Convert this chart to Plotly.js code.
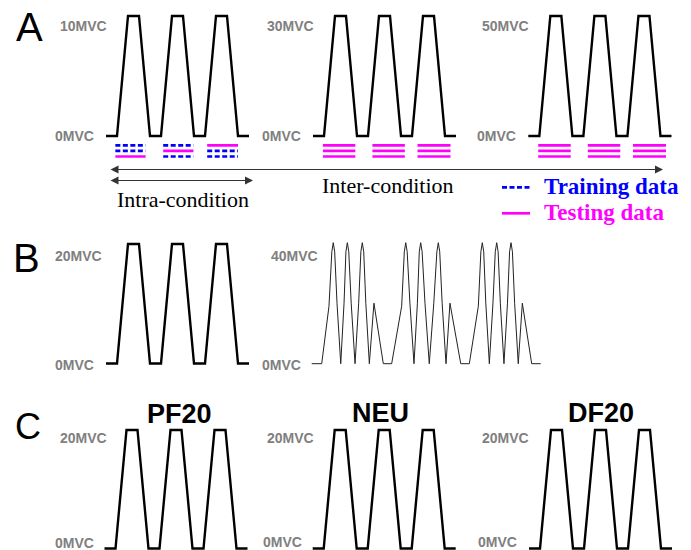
<!DOCTYPE html>
<html>
<head>
<meta charset="utf-8">
<script src="https://cdn.plot.ly/plotly-3.0.1.min.js"></script>
<style>html,body{margin:0;padding:0;background:#fff;}#chart{width:691px;height:550px;}</style>
</head>
<body>
<div id="chart"></div>
<script>
// ---------------- data ----------------
// trapezoidal force profile: time units, force in %MVC
const trapTime = [0, 1, 2, 3, 4, 5, 6, 7, 8, 9, 10, 11, 12, 13];
const forceA10 = [0, 0, 10, 10, 0, 0, 10, 10, 0, 0, 10, 10, 0, 0];
const forceA30 = [0, 0, 30, 30, 0, 0, 30, 30, 0, 0, 30, 30, 0, 0];
const forceA50 = [0, 0, 50, 50, 0, 0, 50, 50, 0, 0, 50, 50, 0, 0];
const forceB20 = [0, 0, 20, 20, 0, 0, 20, 20, 0, 0, 20, 20, 0, 0];
const forceC20 = [0, 0, 20, 20, 0, 0, 20, 20, 0, 0, 20, 20, 0, 0];

// sinusoidal (dynamic) profile of panel B, 40 %MVC
const sineTime = [0, 0.91, 1.57, 1.83, 1.96, 2.09, 2.30, 2.64, 2.94, 3.11, 3.24, 3.37, 3.59, 3.94,
  4.27, 4.47, 4.60, 4.73, 4.92, 5.24, 5.66, 6.51, 7.27,
  8.18, 8.42, 8.55, 8.68, 8.93, 9.30, 9.61, 9.78, 9.91, 10.04, 10.30, 10.69,
  11.10, 11.38, 11.51, 11.64, 11.86, 12.21, 12.57, 13.55, 14.33,
  15.15, 15.38, 15.51, 15.64, 15.83, 16.15, 16.48, 16.69, 16.82, 16.95, 17.15, 17.48,
  17.80, 17.99, 18.12, 18.25, 18.45, 18.78, 19.15, 20.00, 20.82];
const sineForce = [0, 0, 19, 37, 40, 37, 20, 0, 20, 37, 40, 37, 20, 0,
  20, 37, 40, 37, 20, 0, 20, 0, 0,
  19, 37, 40, 37, 20, 0, 20, 37, 40, 37, 20, 0,
  20, 37, 40, 37, 20, 0, 20, 0, 0,
  19, 37, 40, 37, 20, 0, 20, 37, 40, 37, 20, 0,
  20, 37, 40, 37, 20, 0, 20, 0, 0];

// data split windows (one per contraction) and role of each of the three rows
const intraStart = [0.85, 5.2, 9.2];
const intraEnd = [3.6, 7.95, 12.0];
const interStart = [0.9, 5.4, 9.5];
const interEnd = [3.85, 8.35, 12.5];
const intraRoles = [['train', 'train', 'test'], ['train', 'test', 'train'], ['test', 'train', 'train']];
const interRoles = [['test', 'test', 'test'], ['test', 'test', 'test'], ['test', 'test', 'test']];

// labels
const topLabels = ['10MVC', '30MVC', '50MVC', '20MVC', '40MVC', '20MVC', '20MVC', '20MVC'];
const zeroLabel = '0MVC';
const conditionTitles = ['PF20', 'NEU', 'DF20'];
const legendNames = ['Training data', 'Testing data'];

// ---------------- layout helpers ----------------
const W = 691, H = 550;
const GRAY = '#808080';
const BLUE = '#0000ff', MAGENTA = '#ff00ff';
const DASH = '5px,2.5px';
function px2x(p) { return p / W; }
function px2y(p) { return 1 - p / H; }
function xax(pxL, pxR, r, pad) {
  const k = (pxR - pxL) / (r[1] - r[0]);
  return {domain: [Math.max(0, (pxL - pad) / W), Math.min(1, (pxR + pad) / W)],
          range: [r[0] - pad / k, r[1] + pad / k], visible: false, fixedrange: true};
}
function yax(pyB, pyT, r, padB, padT) {
  const k = (pyB - pyT) / (r[1] - r[0]);
  return {domain: [Math.max(0, 1 - (pyB + padB) / H), Math.min(1, 1 - (pyT - padT) / H)],
          range: [r[0] - padB / k, r[1] + padT / k], visible: false, fixedrange: true};
}

// panel boxes (pixel positions of the data extents)
const panels = [
  {x: [106, 249], y: [136, 16], t: trapTime, f: forceA10, top: 10, lblTop: [83, 26], lblZero: [74.5, 136]},
  {x: [313, 456], y: [136, 16], t: trapTime, f: forceA30, top: 30, lblTop: [290, 26], lblZero: [281.5, 136]},
  {x: [528.3, 671.5], y: [136, 16], t: trapTime, f: forceA50, top: 50, lblTop: [505.5, 26], lblZero: [497, 136]},
  {x: [106, 249], y: [363.5, 244], t: trapTime, f: forceB20, top: 20, lblTop: [78.5, 256], lblZero: [74.5, 364.5]},
  {x: [311.7, 540.7], y: [363.7, 242.7], t: sineTime, f: sineForce, top: 40, lblTop: [294.5, 256], lblZero: [281.5, 365], thin: true},
  {x: [104.5, 247.5], y: [548.5, 430], t: trapTime, f: forceC20, top: 20, lblTop: [83.7, 437.5], lblZero: [74.7, 542.5]},
  {x: [312.7, 455.7], y: [548.5, 430], t: trapTime, f: forceC20, top: 20, lblTop: [290.3, 437.5], lblZero: [282.2, 542]},
  {x: [529, 672], y: [548.5, 430], t: trapTime, f: forceC20, top: 20, lblTop: [505.3, 437.5], lblZero: [497.2, 542]}
];

const layout = {
  width: W, height: H,
  margin: {l: 0, r: 0, t: 0, b: 0},
  paper_bgcolor: '#ffffff', plot_bgcolor: 'rgba(0,0,0,0)',
  showlegend: false,
  annotations: [], shapes: []
};
const traces = [];

panels.forEach((p, i) => {
  const n = i === 0 ? '' : String(i + 1);
  const tr = [p.t[0], p.t[p.t.length - 1]];
  layout['xaxis' + n] = xax(p.x[0], p.x[1], tr, 4);
  const padB = p.y[0] > 540 ? Math.min(4, H - p.y[0]) : 4;
  layout['yaxis' + n] = yax(p.y[0], p.y[1], [0, p.top], padB, 4);
  layout['yaxis' + n].anchor = 'x' + n;
  layout['xaxis' + n].anchor = 'y' + n;
  traces.push({
    type: 'scatter', mode: 'lines', x: p.t, y: p.f, xaxis: 'x' + n, yaxis: 'y' + n,
    showlegend: false, hoverinfo: 'skip',
    line: p.thin ? {color: '#222', width: 1} : {color: '#000', width: 2.4}
  });
  layout.annotations.push({xref: 'paper', yref: 'paper', x: px2x(p.lblTop[0]), y: px2y(p.lblTop[1]),
    xanchor: 'center', yanchor: 'middle', showarrow: false, text: '<b>' + topLabels[i] + '</b>',
    font: {family: 'Liberation Sans, Arial, sans-serif', size: 14, color: GRAY}});
  layout.annotations.push({xref: 'paper', yref: 'paper', x: px2x(p.lblZero[0]), y: px2y(p.lblZero[1]),
    xanchor: 'center', yanchor: 'middle', showarrow: false, text: '<b>' + zeroLabel + '</b>',
    font: {family: 'Liberation Sans, Arial, sans-serif', size: 14, color: GRAY}});
});

// row axis for the training/testing marks (rows 1..3)
layout.yaxis9 = {domain: [px2y(162.1), px2y(139.7)], range: [4, 0], visible: false, fixedrange: true, anchor: 'x'};

function markTraces(axisN, starts, ends, roles) {
  const seg = {train: {x: [], y: []}, test: {x: [], y: []}};
  for (let c = 0; c < starts.length; c++) {
    for (let r = 0; r < 3; r++) {
      const s = seg[roles[c][r]];
      s.x.push(starts[c], ends[c], null);
      s.y.push(r + 1, r + 1, null);
    }
  }
  return [
    {type: 'scatter', mode: 'lines', x: seg.train.x, y: seg.train.y, xaxis: 'x' + axisN, yaxis: 'y9',
     name: legendNames[0], showlegend: false, hoverinfo: 'skip', line: {color: BLUE, width: 2.7, dash: DASH}},
    {type: 'scatter', mode: 'lines', x: seg.test.x, y: seg.test.y, xaxis: 'x' + axisN, yaxis: 'y9',
     name: legendNames[1], showlegend: false, hoverinfo: 'skip', line: {color: MAGENTA, width: 2.7}}
  ];
}
traces.push(...markTraces('', intraStart, intraEnd, intraRoles));
traces.push(...markTraces('2', interStart, interEnd, interRoles));
traces.push(...markTraces('3', interStart, interEnd, interRoles));

// legend (line samples + labels)
const serif = 'Liberation Serif, Times New Roman, serif';
[[BLUE, DASH, 187.3, legendNames[0]], [MAGENTA, 'solid', 213.3, legendNames[1]]].forEach(l => {
  layout.shapes.push({type: 'line', xref: 'paper', yref: 'paper', x0: px2x(502), x1: px2x(530),
    y0: px2y(l[2]), y1: px2y(l[2]), line: {color: l[0], width: 2.7, dash: l[1]}});
  layout.annotations.push({xref: 'paper', yref: 'paper', x: px2x(542), y: px2y(l[2] - 0.5), showarrow: false,
    text: '<b>' + l[3] + '</b>', xanchor: 'left', yanchor: 'middle',
    font: {family: serif, size: 23, color: l[0]}});
});

// arrows
function arrow(x0, x1, y) {
  layout.annotations.push({xref: 'paper', yref: 'paper', x: px2x(x1), y: px2y(y), ax: -(x1 - x0), ay: 0,
    axref: 'pixel', ayref: 'pixel', text: '', showarrow: true, arrowside: 'end+start',
    arrowhead: 2, arrowsize: 1.6, arrowwidth: 1, arrowcolor: '#333', standoff: 0, startstandoff: 0});
}
arrow(109, 663, 169.5);
arrow(109, 253, 180.5);

layout.annotations.push({xref: 'paper', yref: 'paper', x: px2x(387.5), y: px2y(185.5), showarrow: false,
  text: 'Inter-condition', xanchor: 'center', yanchor: 'middle', font: {family: serif, size: 22, color: '#000'}});
layout.annotations.push({xref: 'paper', yref: 'paper', x: px2x(183.5), y: px2y(199.5), showarrow: false,
  text: 'Intra-condition', xanchor: 'center', yanchor: 'middle', font: {family: serif, size: 22, color: '#000'}});

// panel letters
[['A', 29, 26.5, 40], ['B', 26.7, 258, 40], ['C', 28, 426, 36]].forEach(a => {
  layout.annotations.push({xref: 'paper', yref: 'paper', x: px2x(a[1]), y: px2y(a[2]), showarrow: false,
    text: a[0], xanchor: 'center', yanchor: 'middle', font: {family: 'Liberation Sans, Arial, sans-serif', size: a[3], color: '#000'}});
});

// condition titles of panel C
[[179.5, 413.5], [380.8, 412.5], [601.3, 412.5]].forEach((pos, i) => {
  layout.annotations.push({xref: 'paper', yref: 'paper', x: px2x(pos[0]), y: px2y(pos[1]), showarrow: false,
    text: '<b>' + conditionTitles[i] + '</b>', xanchor: 'center', yanchor: 'middle',
    font: {family: 'Liberation Sans, Arial, sans-serif', size: 27, color: '#000'}});
});

Plotly.newPlot('chart', traces, layout, {staticPlot: true, displayModeBar: false});
</script>
</body>
</html>
